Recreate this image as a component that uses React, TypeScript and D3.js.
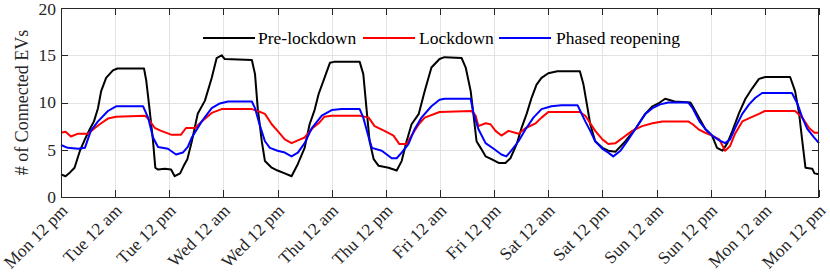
import React from 'react';
import * as d3 from 'd3';

// hours since Mon 12 pm -> connected EVs
const preLockdown: [number, number][] = [
    [0, 2.4], [1, 2.2], [2, 2.6], [3, 3.1], [4.2, 4.9], [5.2, 6.0], [6.4, 7.2], [7.3, 8.0], [8.2, 9.4], [8.9, 11.2],
    [10, 12.6], [11.5, 13.4], [12.5, 13.6], [18.4, 13.6], [18.9, 12.3], [19.6, 9.4], [20.4, 5.9], [20.9, 3.1],
    [21.5, 2.9], [23, 3.0], [24.4, 2.9], [25.2, 2.2], [26.4, 2.5], [27.2, 3.3], [28, 4.0], [29, 5.9], [30.3, 8.8],
    [31.9, 10.2], [33.4, 12.6], [34.5, 14.7], [35.6, 15.0], [36.3, 14.6], [42.3, 14.5], [43, 13], [43.6, 9.4],
    [44.5, 5.9], [45.2, 3.8], [46.7, 3.1], [48, 2.8], [49.6, 2.5], [51.1, 2.2], [52.5, 3.5], [54, 5.2], [55.1, 7.7],
    [56.2, 9.2], [57.1, 10.9], [58.4, 12.6], [59.6, 14.2], [60.5, 14.3], [66.2, 14.3], [67, 13], [67.7, 9.4],
    [68.4, 5.9], [69.3, 4.0], [70.4, 3.3], [72.6, 3.1], [74.4, 2.8], [75.5, 3.8], [76.6, 5.9], [77.7, 7.7],
    [79.3, 8.8], [80.6, 11.2], [82.1, 13.7], [83.9, 14.6], [85, 14.8], [88.8, 14.7], [89.7, 13.7], [90.8, 11.2],
    [91.4, 8.8], [92.1, 5.9], [93, 5.2], [94.1, 4.3], [95.4, 4.0], [97, 3.6], [98.5, 3.6], [99.6, 4.1], [101, 5.6],
    [102, 7.2], [103.2, 8.8], [104.3, 10.5], [105.4, 11.9], [106.5, 12.6], [108, 13.1], [110, 13.3], [115, 13.3],
    [115.8, 11.9], [116.7, 9.4], [117.3, 7.7], [118.4, 5.9], [120, 5.2], [121.3, 4.9], [122.9, 4.8], [125.1, 5.9],
    [127.3, 7.2], [129.5, 8.8], [131.1, 9.6], [132.4, 9.9], [133.9, 10.4], [136, 10.1], [139.5, 10.0], [140, 9.6],
    [141.5, 8.3], [142.8, 7.2], [144.3, 6.5], [145.4, 5.2], [146.6, 4.9], [147.7, 5.7], [148.8, 7.0], [150.3, 8.9],
    [151.7, 10.4], [153.2, 11.5], [154.7, 12.5], [156.1, 12.7], [161.6, 12.7], [162.7, 11.2], [163.6, 8.8],
    [164.3, 5.9], [165, 3.1], [166.5, 3.0], [167, 2.5], [168, 2.4],
];
const lockdown: [number, number][] = [
    [0, 6.8], [1, 6.9], [2.2, 6.4], [3.8, 6.7], [6, 6.7], [7.5, 7.3], [8.9, 7.8], [10.4, 8.3], [12.2, 8.5],
    [18.6, 8.6], [19.3, 8.3], [20.8, 7.3], [22.2, 7.0], [24.4, 6.6], [26.6, 6.6], [27.7, 7.3], [29.7, 7.3],
    [31.2, 8.0], [33.4, 8.9], [35.6, 9.3], [42.3, 9.3], [43.6, 9.1], [45.2, 8.8], [46.7, 7.7], [48, 7.0],
    [49.6, 6.1], [51.1, 5.7], [52.5, 6.0], [54, 6.3], [55.8, 7.3], [57.1, 7.8], [58.4, 8.5], [60, 8.6],
    [66.2, 8.6], [68.2, 8.4], [69.5, 7.5], [71.7, 7.0], [73.7, 6.5], [75, 5.6], [76.6, 5.6], [77.7, 6.5],
    [79.3, 7.7], [80.6, 8.4], [83.9, 9.0], [91, 9.1], [91.9, 8.6], [92.5, 7.5], [94.1, 7.8], [95.2, 7.7],
    [96.3, 7.0], [97.6, 6.5], [99.2, 7.0], [101.4, 6.7], [103, 7.3], [105.2, 7.8], [106.5, 8.4], [108, 9.0],
    [115, 9.0], [116.2, 8.6], [117.3, 7.8], [118.4, 7.0], [120, 6.1], [121.3, 5.6], [122.9, 5.7], [124.6, 6.3],
    [126.6, 7.0], [128.8, 7.5], [131.1, 7.8], [133.3, 8.0], [139, 8.0], [140, 7.7], [141.5, 7.1], [142.8, 6.8],
    [144.3, 6.5], [145.9, 6.1], [147.2, 4.9], [148.3, 5.4], [149.4, 6.7], [151, 8.0], [152.8, 8.4], [154.7, 8.8],
    [156, 9.1], [162.7, 9.1], [164.3, 8.4], [165.8, 7.3], [167, 6.8], [168, 6.8],
];
const phasedReopening: [number, number][] = [
    [0, 5.5], [1.5, 5.2], [3.8, 5.1], [5.3, 5.2], [6.6, 7.0], [8.2, 8.0], [10.4, 9.1], [12.2, 9.6], [18.2, 9.6],
    [19.3, 8.4], [20.4, 6.3], [21.5, 5.3], [23.7, 5.1], [25.5, 4.5], [27, 4.7], [28.1, 5.3], [29, 6.3], [31.2, 8.0],
    [33.4, 9.4], [35.2, 9.9], [37, 10.1], [42.3, 10.1], [43, 9.4], [44, 7.7], [45.2, 5.9], [46.3, 5.2], [48, 4.9],
    [49.6, 4.7], [51.1, 4.3], [52.5, 4.7], [54, 5.7], [55.6, 7.3], [57.8, 8.6], [60, 9.2], [62.2, 9.3], [66.2, 9.3],
    [67, 8.4], [68.2, 6.3], [68.9, 5.2], [71.1, 4.9], [73.3, 4.1], [74.4, 4.1], [75.5, 4.7], [77, 5.6], [78.4, 7.2],
    [79.9, 8.4], [82.1, 9.6], [83.9, 10.3], [85, 10.4], [90.8, 10.4], [91.4, 8.9], [92.5, 7.2], [94.1, 5.7],
    [95.9, 5.1], [97.6, 4.5], [98.7, 4.3], [99.8, 4.9], [101.4, 5.9], [103, 7.2], [104.7, 8.4], [106.5, 9.3],
    [108.7, 9.6], [110.9, 9.7], [114.5, 9.7], [115.1, 9.1], [116.2, 8.0], [117.3, 7.0], [118.4, 5.9], [120, 5.1],
    [121.3, 4.7], [122.4, 4.3], [124, 4.9], [125.5, 5.9], [127.3, 7.2], [129.5, 8.8], [131.1, 9.4], [132.8, 9.8],
    [134.6, 10.0], [139, 10.0], [140, 9.4], [141.5, 8.0], [142.8, 7.2], [144.3, 6.5], [145.9, 6.0], [147.2, 5.7],
    [148.3, 6.1], [149.4, 7.3], [151, 8.8], [152.5, 9.8], [153.9, 10.5], [155.4, 11.0], [162, 11.0], [163.2, 9.9],
    [164.3, 8.4], [165.4, 7.2], [166.9, 6.3], [168, 5.7],
];

const xTickLabels = [
    'Mon 12 pm', 'Tue 12 am', 'Tue 12 pm', 'Wed 12 am', 'Wed 12 pm', 'Thu 12 am', 'Thu 12 pm', 'Fri 12 am',
    'Fri 12 pm', 'Sat 12 am', 'Sat 12 pm', 'Sun 12 am', 'Sun 12 pm', 'Mon 12 am', 'Mon 12 pm',
];
const yTicks = [0, 5, 10, 15, 20];

const series = [
    { name: 'Pre-lockdown', color: '#000000', data: preLockdown },
    { name: 'Lockdown', color: '#ff0000', data: lockdown },
    { name: 'Phased reopening', color: '#0000ff', data: phasedReopening },
];

const width = 830;
const height = 278;
const margin = { left: 61, right: 11, top: 8, bottom: 81 };
const serif = { fontFamily: "'Liberation Serif'" };
const axisColor = '#262626';

export default function App() {
    const x = d3.scaleLinear()
        .domain([0, 168])
        .range([margin.left, width - margin.right]);
    const y = d3.scaleLinear()
        .domain([0, 20])
        .range([height - margin.bottom, margin.top]);
    const line = d3.line<[number, number]>()
        .x(d => x(d[0]))
        .y(d => y(d[1]));
    const xTicks = xTickLabels.map((_, i) => i * 12);
    const [x0, x1] = x.range();
    const [y0, y1] = y.range();
    // legend layout: line sample then label
    const legendItems = [
        { lx: 203, tx: 258 },
        { lx: 363, tx: 419 },
        { lx: 499, tx: 556 },
    ];
    return (
        <svg width={width} height={height} style={{ position: 'absolute', left: 0, top: 0, background: '#fff' }}>
            <g className="grid" stroke="#e3e3e3" strokeWidth={1}>
                {xTicks.slice(1, -1).map(t => (
                    <line key={'gx' + t} x1={Math.round(x(t)) + 0.5} x2={Math.round(x(t)) + 0.5} y1={y1} y2={y0} />
                ))}
                {yTicks.slice(1, -1).map(t => (
                    <line key={'gy' + t} x1={x0} x2={x1} y1={Math.round(y(t)) + 0.5} y2={Math.round(y(t)) + 0.5} />
                ))}
            </g>
            <g className="plot" fill="none" strokeWidth={2} strokeLinejoin="round">
                {series.map(s => (
                    <path key={s.name} d={line(s.data) || ''} stroke={s.color} />
                ))}
            </g>
            <g className="axes" stroke={axisColor} strokeWidth={1} fill="none">
                <rect x={x0 + 0.5} y={y1 + 0.5} width={x1 - x0 - 1} height={y0 - y1} />
                {xTicks.map(t => {
                    const px = Math.round(x(t)) + 0.5;
                    return (
                        <g key={'tx' + t}>
                            <line x1={px} x2={px} y1={y0} y2={y0 - 7} />
                            <line x1={px} x2={px} y1={y1} y2={y1 + 7} />
                        </g>
                    );
                })}
                {yTicks.map(t => {
                    const py = Math.round(y(t)) + 0.5;
                    return (
                        <g key={'ty' + t}>
                            <line x1={x0} x2={x0 + 7} y1={py} y2={py} />
                            <line x1={x1} x2={x1 - 7} y1={py} y2={py} />
                        </g>
                    );
                })}
            </g>
            <g className="yLabels" fontSize={17.5} fill="#262626" textAnchor="end">
                {yTicks.map(t => (
                    <text key={t} x={x0 - 5} y={y(t)} dy={t === 20 ? '0.42em' : '0.34em'} style={serif}>{t}</text>
                ))}
            </g>
            <g className="xLabels" fontSize={17.5} fill="#262626" textAnchor="end">
                {xTickLabels.map((label, i) => {
                    const px = x(xTicks[i]) + 4;
                    const py = y0 + 11;
                    return (
                        <text key={i} transform={`translate(${px},${py}) rotate(-45)`} dy="0.3em" style={serif}>{label}</text>
                    );
                })}
            </g>
            <text
                transform={`translate(22,${(y0 + y1) / 2}) rotate(-90)`}
                textAnchor="middle"
                dy="0.35em"
                fontSize={18}
                fill="#262626"
                style={serif}
            >
                # of Connected EVs
            </text>
            <g className="legend" fontSize={17.5} fill="#000">
                {series.map((s, i) => (
                    <g key={s.name}>
                        <line x1={legendItems[i].lx} x2={legendItems[i].lx + 52} y1={38} y2={38} stroke={s.color} strokeWidth={2} />
                        <text x={legendItems[i].tx} y={38} dy="0.35em" style={serif}>{s.name}</text>
                    </g>
                ))}
            </g>
        </svg>
    );
}
